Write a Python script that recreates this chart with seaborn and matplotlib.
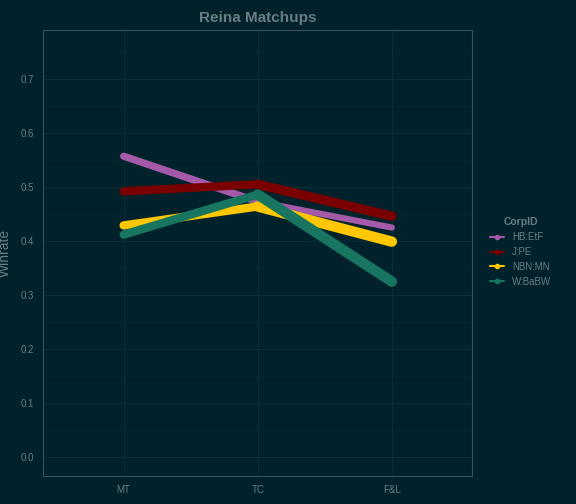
import matplotlib
matplotlib.use("Agg")
import matplotlib.pyplot as plt
import seaborn as sns
import pandas as pd
from matplotlib.lines import Line2D

matchups = ["MT", "TC", "F&L"]
corps = ["HB:EtF", "J:PE", "NBN:MN", "W:BaBW"]
hb = [0.557, 0.473, 0.425]
jpe = [0.492, 0.505, 0.446]
nbn = [0.429, 0.464, 0.399]
wbabw = [0.412, 0.486, 0.325]
hb_w = [10, 4, 8]
jpe_w = [6, 10, 8]
nbn_w = [8, 8, 12]
wbabw_w = [6, 10, 10]
colors = ["#a45aa8", "#7a0000", "#ffc700", "#177560"]

bg = "#01222b"
txt = "#6b7c82"
sns.set_theme(style="dark")
plt.rcParams['font.family'] = ['Liberation Sans', 'DejaVu Sans']
fig = plt.figure(figsize=(5.76, 5.04), dpi=100, facecolor=bg)
ax = fig.add_axes([0.075, 0.055, 0.745, 0.885], facecolor=bg)

xs = {m: i for i, m in enumerate(matchups)}
for name, vals, ws, c in zip(corps, [hb, jpe, nbn, wbabw], [hb_w, jpe_w, nbn_w, wbabw_w], colors):
    df = pd.DataFrame({"x": [xs[m] for m in matchups], "y": vals})
    for i in range(len(vals) - 1):
        seg = df.iloc[i:i + 2]
        sns.lineplot(data=seg, x="x", y="y", ax=ax, color=c,
                     linewidth=(ws[i] + ws[i + 1]) / 2 * 0.75, solid_capstyle="round", legend=False)

ax.set_xlim(-0.6, 2.6)
ax.set_ylim(-0.035, 0.79)
ax.set_xticks(range(3))
ax.set_xticklabels(matchups)
ax.set_yticks([i / 10 for i in range(8)])
ax.set_yticks([i / 10 + 0.05 for i in range(8)], minor=True)
ax.set_xlabel("")
ax.set_ylabel("Winrate", color=txt, fontsize=10, labelpad=6)
ax.tick_params(colors=txt, labelsize=7, length=3, which="major")
ax.tick_params(which="minor", length=0)
ax.grid(True, which="major", color="#082e38", linewidth=0.8)
ax.grid(True, which="minor", color="#04283 1".replace(" ", ""), linewidth=0.5)
for s in ax.spines.values():
    s.set_color("#3a5058")
    s.set_linewidth(0.8)
ax.set_title("Reina Matchups", color=txt, fontsize=11, fontweight="bold")

handles = [Line2D([0], [0], color=c, marker="o", markersize=3, linewidth=1.5) for c in colors]
leg = fig.legend(handles, corps, title="CorpID", loc="center left", bbox_to_anchor=(0.835, 0.5),
                 frameon=False, fontsize=7, handlelength=1.5)
leg.get_title().set_color(txt)
leg.get_title().set_fontsize(7.5)
leg.get_title().set_fontweight("bold")
for t in leg.get_texts():
    t.set_color(txt)
fig.savefig("out.png", facecolor=bg)
